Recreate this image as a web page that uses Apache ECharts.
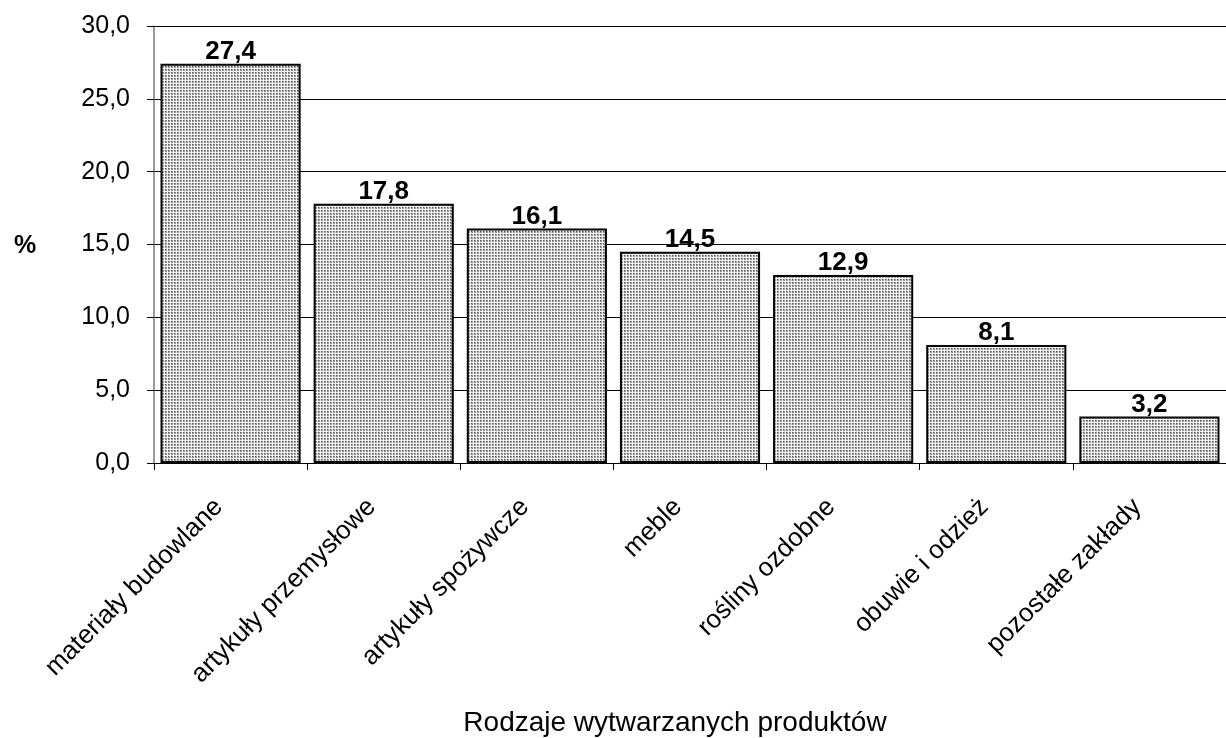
<!DOCTYPE html>
<html><head><meta charset="utf-8">
<script src="https://cdn.jsdelivr.net/npm/echarts@6/dist/echarts.min.js"></script>
<style>html,body{margin:0;padding:0;background:#fff}#c{width:1226px;height:738px}</style>
</head><body><div id="c"></div>
<script>
const categories = ['materiały budowlane','artykuły przemysłowe','artykuły spożywcze','meble','rośliny ozdobne','obuwie i odzież','pozostałe zakłady'];
const values = [27.4, 17.8, 16.1, 14.5, 12.9, 8.1, 3.2];
const yTicks = [0, 5, 10, 15, 20, 25, 30];

const pc = document.createElement('canvas');
pc.width = 3; pc.height = 3;
const g = pc.getContext('2d');
g.fillStyle = '#f2f2f2'; g.fillRect(0,0,3,3);
g.fillStyle = '#9a9a9a'; g.fillRect(0,0,2,2);
g.fillStyle = '#505050'; g.fillRect(0,0,1,1);

const FF = 'Liberation Sans, Arial, sans-serif';
const fmt = v => v.toFixed(1).replace('.', ',');
const chart = echarts.init(document.getElementById('c'), null, {renderer:'canvas'});
chart.setOption({
  animation:false,
  backgroundColor:'#fff',
  textStyle:{fontFamily:FF},
  grid:{left:154, top:26, right:-12, bottom:275, containLabel:false},
  xAxis:{type:'category', data:categories,
    axisLine:{lineStyle:{color:'#000', width:1}},
    axisTick:{show:true, alignWithLabel:false, length:7, lineStyle:{color:'#000'}},
    axisLabel:{rotate:45, fontSize:26, color:'#000', margin:28, padding:[0,17,0,0], fontFamily:FF}},
  yAxis:{type:'value', min:yTicks[0], max:yTicks[yTicks.length-1], interval:5,
    axisLine:{show:true, lineStyle:{color:'#777', width:1.5}},
    axisTick:{show:true, length:7, lineStyle:{color:'#000'}},
    splitLine:{show:true, lineStyle:{color:'#000', width:1}},
    axisLabel:{formatter:fmt, fontSize:25, color:'#000', margin:24, fontFamily:FF}},
  series:[{type:'bar', data:values, barCategoryGap:'8.5%',
    itemStyle:{color:{image:pc, repeat:'repeat'}, borderColor:'#000', borderWidth:2},
    label:{show:true, position:'top', distance:-1, formatter:p=>fmt(p.value), fontSize:26, fontWeight:'bold', color:'#000', fontFamily:FF}}],
  graphic:[
    {type:'text', x:14, y:246, style:{text:'%', fontSize:25, fontWeight:'bold', fill:'#000', verticalAlign:'middle', fontFamily:FF}},
    {type:'text', x:675, y:723, style:{text:'Rodzaje wytwarzanych produktów', fontSize:28, fill:'#000', align:'center', verticalAlign:'middle', fontFamily:FF}}
  ]
});
</script></body></html>
